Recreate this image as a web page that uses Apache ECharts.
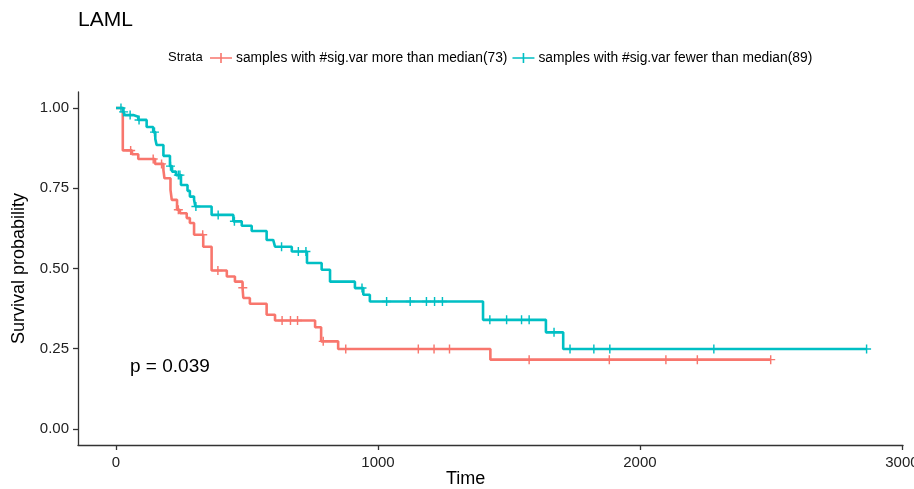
<!DOCTYPE html>
<html>
<head>
<meta charset="utf-8">
<script src="https://cdn.jsdelivr.net/npm/echarts@6/dist/echarts.min.js"></script>
<style>
html,body{margin:0;padding:0;background:#fff}
#main{width:914px;height:489px}
</style>
</head>
<body>
<div id="main"></div>
<script>
// series names
var redName = 'samples with #sig.var more than median(73)';
var tealName = 'samples with #sig.var fewer than median(89)';

// KM steps, more than median: time of drop / survival after it
var redTimes = [0, 26, 61, 85, 149, 181, 185, 208, 213, 233, 244, 270, 282, 298, 333, 365, 423, 454, 483, 486, 511, 575, 607, 760, 783, 848, 1429];
var redSurv = [1, 0.868, 0.856, 0.841, 0.826, 0.807, 0.781, 0.745, 0.714, 0.683, 0.672, 0.657, 0.642, 0.605, 0.568, 0.494, 0.475, 0.459, 0.440, 0.408, 0.390, 0.356, 0.338, 0.317, 0.273, 0.249, 0.216];
var redCensor = [56, 142, 174, 238, 331, 389, 484, 634, 666, 693, 791, 877, 1154, 1214, 1273, 1577, 1883, 2099, 2219, 2499];

// KM steps, fewer than median
var tealTimes = [0, 28, 34, 66, 85, 117, 142, 150, 155, 181, 206, 214, 229, 248, 273, 282, 298, 303, 365, 448, 480, 518, 575, 600, 607, 671, 729, 785, 817, 912, 944, 969, 1401, 1641, 1707];
var tealSurv = [1, 0.988, 0.978, 0.973, 0.963, 0.941, 0.925, 0.904, 0.885, 0.851, 0.819, 0.802, 0.791, 0.760, 0.742, 0.724, 0.714, 0.693, 0.667, 0.647, 0.633, 0.617, 0.589, 0.583, 0.568, 0.553, 0.517, 0.496, 0.459, 0.439, 0.418, 0.397, 0.340, 0.301, 0.249];
var tealCensor = [19, 29, 54, 88, 147, 208, 238, 244, 305, 390, 452, 632, 696, 725, 939, 1033, 1123, 1185, 1216, 1246, 1427, 1491, 1548, 1577, 1672, 1733, 1824, 1885, 2282, 2865];

var xTicks = [0, 1000, 2000, 3000];
var yTicks = [0, 0.25, 0.5, 0.75, 1];

var red = '#F8766D', teal = '#00BFC4';
var plusPath = 'path://M4.2,0H5.8V4.2H10V5.8H5.8V10H4.2V5.8H0V4.2H4.2Z';
var legendIcon = 'path://M0,5.2H22V6.8H0Z M10.2,1H11.8V11H10.2Z';
var font = 'Liberation Sans, Arial, Helvetica, sans-serif';

function survAt(times, surv, t) {
	var s = 1;
	for (var i = 0; i < times.length; i++) {
		if (times[i] <= t) s = surv[i];
	}
	return s;
}
function stepData(times, surv, censor) {
	var d = [];
	for (var i = 0; i < times.length; i++) d.push([times[i], surv[i]]);
	var last = censor[censor.length - 1];
	d.push([last, survAt(times, surv, last)]);
	return d;
}
function censorData(times, surv, censor) {
	var d = [];
	for (var i = 0; i < censor.length; i++) d.push([censor[i], survAt(times, surv, censor[i])]);
	return d;
}

var myChart = echarts.init(document.getElementById('main'));
var option = {
	animation: false,
	textStyle: {fontFamily: font},
	grid: {left: 78, right: 11, top: 92, bottom: 44, containLabel: false, outerBoundsMode: 'none'},
	graphic: [
		{type: 'text', left: 78, top: 10, style: {text: 'LAML', fontSize: 21, fontFamily: font, fill: '#000'}},
		{type: 'text', left: 168, top: 51, style: {text: 'Strata', fontSize: 13, fontFamily: font, fill: '#000'}},
		{type: 'text', left: 130, top: 357, style: {text: 'p = 0.039', fontSize: 19, fontFamily: font, fill: '#000'}},
		{type: 'text', left: 446, top: 470, style: {text: 'Time', fontSize: 18, fontFamily: font, fill: '#000'}}
	],
	legend: {
		left: 210, top: 51, padding: 0,
		itemWidth: 22, itemHeight: 12, itemGap: 5,
		icon: legendIcon,
		textStyle: {fontSize: 13.8, color: '#000', fontFamily: font, padding: [0, 0, 0, -1]},
		data: [
			{name: redName, itemStyle: {color: red}},
			{name: tealName, itemStyle: {color: teal}}
		]
	},
	xAxis: {
		type: 'value', min: -145, max: 3004,
		splitLine: {show: false},
		axisLine: {onZero: false, lineStyle: {color: '#333', width: 1.3}},
		axisTick: {customValues: xTicks, length: 5, lineStyle: {color: '#333', width: 1.3}},
		axisLabel: {customValues: xTicks, color: '#222', fontSize: 15, margin: 10,
			formatter: function (v) { return String(v); }}
	},
	yAxis: {
		type: 'value', min: -0.05, max: 1.05,
		name: 'Survival probability', nameLocation: 'middle', nameGap: 50,
		nameTextStyle: {fontSize: 18, color: '#000', fontFamily: font},
		splitLine: {show: false},
		axisLine: {show: true, onZero: false, lineStyle: {color: '#333', width: 1.3}},
		axisTick: {show: true, customValues: yTicks, length: 5, lineStyle: {color: '#333', width: 1.3}},
		axisLabel: {customValues: yTicks, color: '#222', fontSize: 15, margin: 9,
			formatter: function (v) { return v.toFixed(2); }}
	},
	series: [
		{
			name: redName, type: 'line', step: 'end', showSymbol: false, symbol: 'none',
			lineStyle: {color: red, width: 2.6}, itemStyle: {color: red},
			data: stepData(redTimes, redSurv, redCensor)
		},
		{
			name: tealName, type: 'line', step: 'end', showSymbol: false, symbol: 'none',
			lineStyle: {color: teal, width: 2.6}, itemStyle: {color: teal},
			data: stepData(tealTimes, tealSurv, tealCensor)
		},
		{
			name: 'redCensor', type: 'scatter', symbol: plusPath, symbolSize: 9,
			itemStyle: {color: red, opacity: 1}, z: 3,
			data: censorData(redTimes, redSurv, redCensor)
		},
		{
			name: 'tealCensor', type: 'scatter', symbol: plusPath, symbolSize: 9,
			itemStyle: {color: teal, opacity: 1}, z: 3,
			data: censorData(tealTimes, tealSurv, tealCensor)
		}
	]
};
myChart.setOption(option);
</script>
</body>
</html>
